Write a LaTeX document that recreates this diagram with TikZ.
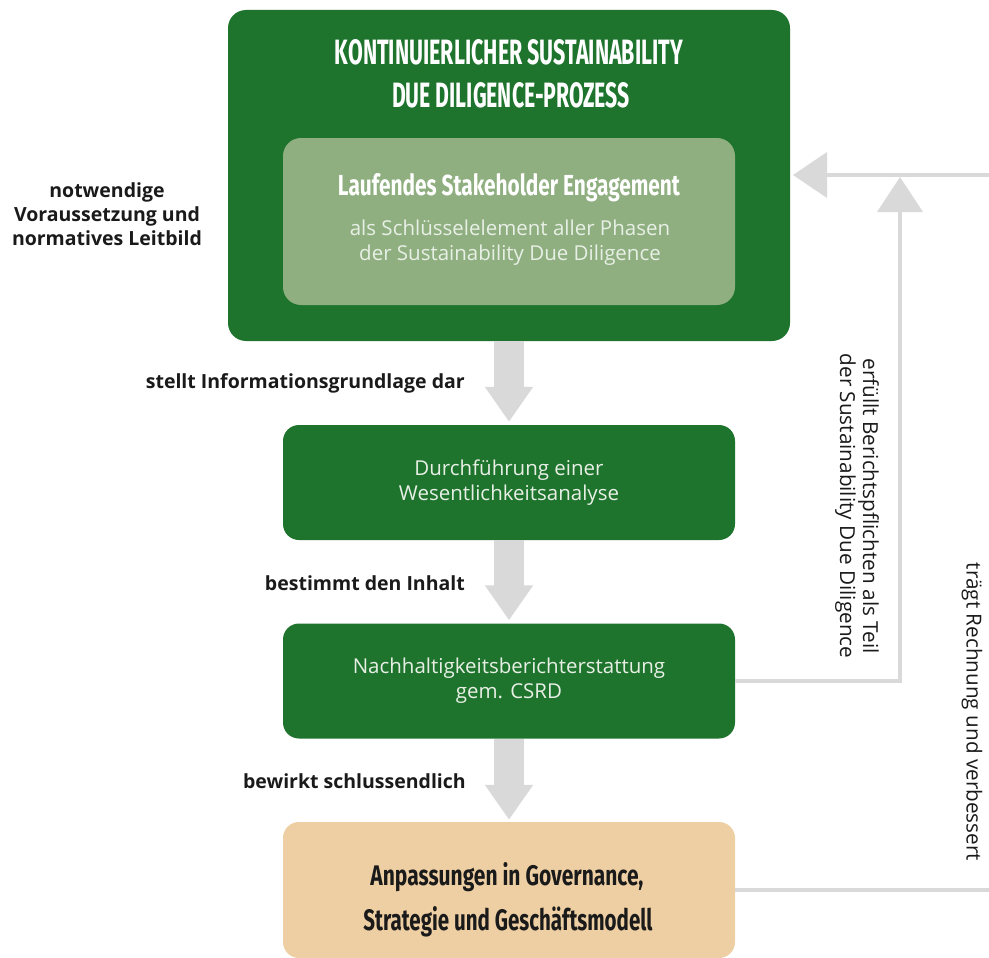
\documentclass[tikz,border=0pt]{standalone}
\usepackage{fontspec}
\setmainfont{Open Sans}
\newfontfamily\condf{Fira Sans}
\usetikzlibrary{arrows.meta}
\definecolor{dgreen}{HTML}{1E732D}
\definecolor{lgreen}{HTML}{8FAF80}
\definecolor{tanbox}{HTML}{EDCFA3}
\definecolor{arrowgray}{HTML}{D9D9D9}
\definecolor{paletext}{HTML}{E8F0E6}
\definecolor{ink}{HTML}{1A1A1A}
\tikzset{
  gbox/.style={fill=dgreen, rounded corners=16pt, minimum width=452pt, minimum height=115pt, inner sep=0pt},
  bodytxt/.style={text=paletext, font=\fontsize{20.5}{25}\selectfont, align=center},
  lbl/.style={font=\bfseries\fontsize{19.5}{24}\selectfont, text=ink, align=right, anchor=east, inner sep=0pt},
  rottxt/.style={font=\fontsize{20.7}{23}\selectfont, text=ink, align=center, rotate=-90, inner sep=0pt},
  garrow/.style={draw=arrowgray, line width=30pt, -{Triangle[width=46pt,length=35pt]}},
  gline/.style={draw=arrowgray, line width=4pt},
  ctitle/.style={inner sep=0pt, anchor=base},
}
\begin{document}
\begin{tikzpicture}[x=1pt,y=-1pt]
\useasboundingbox (0,0) rectangle (989,958);
% main frame
\node[fill=dgreen, rounded corners=18pt, minimum width=562pt, minimum height=331pt, inner sep=0pt] (outer) at (509,175.5) {};
\node[ctitle, text=white] (title1) at (509,65) {\resizebox{348pt}{25pt}{\condf\bfseries KONTINUIERLICHER SUSTAINABILITY}};
\node[ctitle, text=white] (title2) at (511,107) {\resizebox{238pt}{25pt}{\condf\bfseries DUE DILIGENCE-PROZESS}};
\node[fill=lgreen, rounded corners=18pt, minimum width=452pt, minimum height=167pt, inner sep=0pt] (inner) at (509,221.5) {};
\node[ctitle, text=white] (stake) at (509,195) {\resizebox{342pt}{22pt}{\condf\bfseries Laufendes Stakeholder Engagement}};
\node[bodytxt] (stakesub) at (510,242.5) {als Schlüsselelement aller Phasen\\der Sustainability Due Diligence};
% steps
\node[gbox, bodytxt] (wes) at (509,482.5) {Durchführung einer\\Wesentlichkeitsanalyse};
\node[gbox, bodytxt] (csrd) at (509,681) {Nachhaltigkeitsberichterstattung\\gem. CSRD};
\node[fill=tanbox, rounded corners=16pt, minimum width=452pt, minimum height=136pt, inner sep=0pt] (anp) at (509,890) {};
\node[ctitle, text=ink] (anp1) at (507,885) {\resizebox{273pt}{23pt}{\condf\bfseries Anpassungen in Governance,}};
\node[ctitle, text=ink] (anp2) at (508,930) {\resizebox{289pt}{24pt}{\condf\bfseries Strategie und Geschäftsmodell}};
% left texts
\node[font=\bfseries\fontsize{19.5}{24}\selectfont, text=ink, align=center, inner sep=0pt] (prereq) at (107,214) {notwendige\\Voraussetzung und\\normatives Leitbild};
\node[lbl] (l1) at (465,383) {stellt Informationsgrundlage dar};
\node[lbl] (l2) at (465,583) {bestimmt den Inhalt};
\node[lbl] (l3) at (466,781) {bewirkt schlussendlich};
% down arrows
\draw[garrow] (outer.south) -- ([yshift=3pt]wes.north);
\draw[garrow] (wes.south) -- ([yshift=3pt]csrd.north);
\draw[garrow] (csrd.south) -- ([yshift=2pt]anp.north);
% feedback lines
\coordinate (upTip) at (900,177);
\coordinate (farTop) at (996,175);
\coordinate (leftTip) at (793,175);
\draw[gline, -{Triangle[width=45pt,length=35pt]}] (csrd.east) -| (upTip);
\draw[gline, -{Triangle[width=45pt,length=34pt]}] (anp.east) -| (farTop) -- (leftTip);
% rotated texts
\node[rottxt] (t1) at (857,506) {erfüllt Berichtspflichten als Teil\\der Sustainability Due Diligence};
\node[rottxt] (t2) at (972,712) {trägt Rechnung und verbessert};
\end{tikzpicture}
\end{document}
